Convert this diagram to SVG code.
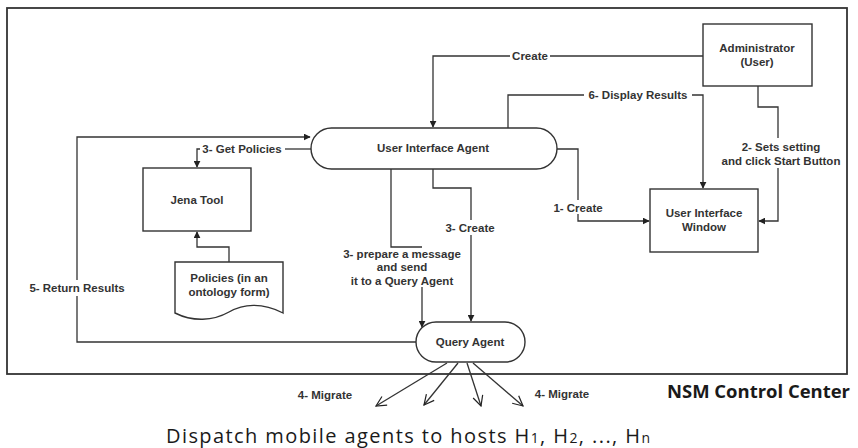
<svg xmlns="http://www.w3.org/2000/svg" width="858" height="448" viewBox="0 0 858 448">
<defs>
<marker id="ah" viewBox="0 0 10 10" refX="9" refY="5" markerWidth="7" markerHeight="7" markerUnits="userSpaceOnUse" orient="auto"><path d="M0,0 L10,5 L0,10 Z" fill="#222"/></marker>
<marker id="oh" viewBox="0 0 12 12" refX="11" refY="6" markerWidth="12" markerHeight="12" markerUnits="userSpaceOnUse" orient="auto"><path d="M1,1 L11,6 L1,11" fill="none" stroke="#222" stroke-width="1.2"/></marker>
</defs>
<style>
.box{fill:#fff;stroke:#333;stroke-width:1.4}
.ln{fill:none;stroke:#333;stroke-width:1.3}
.t{font-family:"Liberation Sans",Arial,sans-serif;font-weight:bold;font-size:11.5px;fill:#333;text-anchor:middle}
.big{font-family:"Open Sans","Noto Sans",sans-serif;fill:#1a1a1a}
</style>
<rect width="858" height="448" fill="#fff"/>
<rect id="frame" x="7" y="8" width="840" height="366" fill="none" stroke="#333" stroke-width="1.8"/>

<g id="connectors">
<polyline class="ln" points="703,56 550,56"/>
<polyline class="ln" points="510,56 433,56 433,127" marker-end="url(#ah)"/>
<text class="t" x="530" y="60">Create</text>

<polyline class="ln" points="508,128 508,95 584,95"/>
<polyline class="ln" points="692,95 703,95 703,188" marker-end="url(#ah)"/>
<text class="t" x="638" y="99">6- Display Results</text>

<polyline class="ln" points="557,149 578,149 578,200"/>
<polyline class="ln" points="578,214 578,221 649,221" marker-end="url(#ah)"/>
<text class="t" x="578" y="212">1- Create</text>

<polyline class="ln" points="758,86 758,107 778,107 778,138"/>
<polyline class="ln" points="778,168 778,221 759,221" marker-end="url(#ah)"/>
<text class="t" x="781" y="151">2- Sets setting</text>
<text class="t" x="781" y="165">and click Start Button</text>

<polyline class="ln" points="311,149 285,149"/>
<polyline class="ln" points="200,149 197,149 197,167" marker-end="url(#ah)"/>
<text class="t" x="242" y="153">3- Get Policies</text>

<polyline class="ln" points="416,342 77,342 77,296"/>
<polyline class="ln" points="77,280 77,137 310,137" marker-end="url(#ah)"/>
<text class="t" x="77" y="292">5- Return Results</text>

<polyline class="ln" points="229,262 229,247 197,247 197,232" marker-end="url(#ah)"/>

<polyline class="ln" points="391,169 391,247 422,247"/>
<polyline class="ln" points="422,287 422,327" marker-end="url(#ah)"/>
<text class="t" x="402" y="258">3- prepare a message</text>
<text class="t" x="402" y="271">and send</text>
<text class="t" x="402" y="285">it to a Query Agent</text>

<polyline class="ln" points="433,169 433,188 471,188 471,220"/>
<polyline class="ln" points="471,235 471,321" marker-end="url(#ah)"/>
<text class="t" x="470" y="232">3- Create</text>

<line class="ln" x1="447" y1="363" x2="376" y2="406" stroke-width="1.6" marker-end="url(#oh)"/>
<line class="ln" x1="458" y1="363" x2="424" y2="405" marker-end="url(#oh)"/>
<line class="ln" x1="467" y1="363" x2="481" y2="406" marker-end="url(#oh)"/>
<line class="ln" x1="473" y1="363" x2="523" y2="406" marker-end="url(#oh)"/>
<text class="t" x="325" y="399">4- Migrate</text>
<text class="t" x="562" y="398">4- Migrate</text>
</g>

<g id="administrator">
<rect class="box" x="703" y="24" width="109" height="62"/>
<text class="t" x="757" y="52">Administrator</text>
<text class="t" x="757" y="66">(User)</text>
</g>

<g id="ui-agent">
<rect class="box" x="311" y="128" width="246" height="41" rx="20.5"/>
<text class="t" x="433" y="152">User Interface Agent</text>
</g>

<g id="ui-window">
<rect class="box" x="650" y="189" width="108" height="63"/>
<text class="t" x="704" y="217">User Interface</text>
<text class="t" x="704" y="231">Window</text>
</g>

<g id="jena-tool">
<rect class="box" x="143" y="168" width="108" height="63"/>
<text class="t" x="197" y="204">Jena Tool</text>
</g>

<g id="policies">
<path class="box" d="M175,262 H283 V313 C262,302 243,304 229,312 C213,321 193,322 175,313 Z"/>
<text class="t" x="229" y="282">Policies (in an</text>
<text class="t" x="229" y="296">ontology form)</text>
</g>

<g id="query-agent">
<rect class="box" x="416" y="322" width="109" height="40" rx="20"/>
<text class="t" x="470" y="346">Query Agent</text>
</g>

<text class="big" x="667" y="398" font-size="18" font-weight="bold" textLength="183" lengthAdjust="spacingAndGlyphs">NSM Control Center</text>
<text class="big" x="166" y="443" font-size="20" textLength="484" lengthAdjust="spacing">Dispatch mobile agents to hosts H<tspan font-size="14">1</tspan>, H<tspan font-size="14">2</tspan>, ..., H<tspan font-size="14">n</tspan></text>
</svg>
